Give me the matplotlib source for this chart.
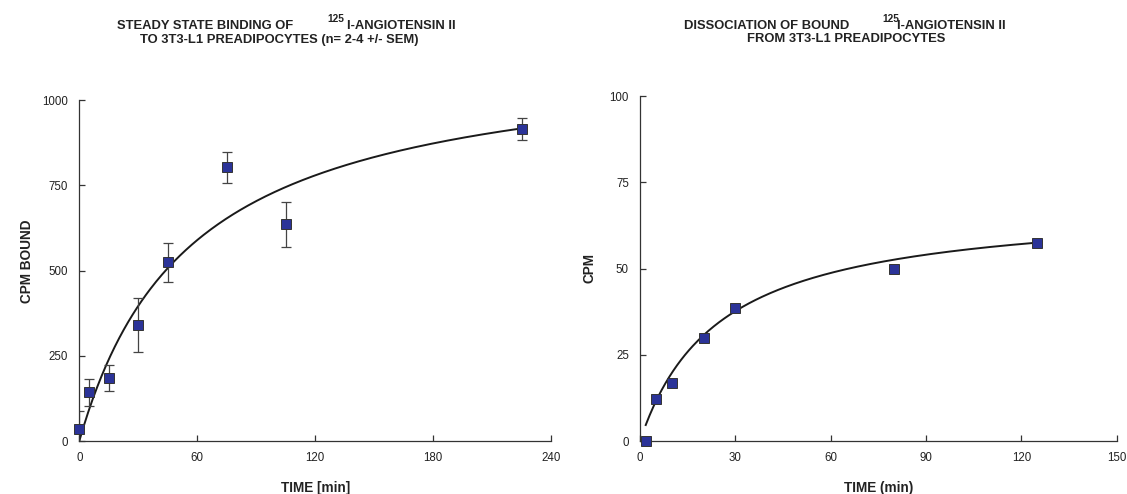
import numpy as np
import matplotlib
matplotlib.use("Agg")
from matplotlib import pyplot as plt

plt.rcParams['font.family'] = ['Liberation Sans', 'DejaVu Sans']

# steady state binding (left panel)
bind_time = [0, 5, 15, 30, 45, 75, 105, 225]
bind_cpm = [34, 143, 186, 340, 524, 803, 636, 916]
bind_sem = [53, 39, 38, 79, 57, 46, 66, 32]
bind_bmax = 1150   # fitted hyperbola
bind_kd = 57
bind_fit_range = (0, 225)

# dissociation (right panel)
diss_time = [1.8, 5, 10, 20, 30, 80, 125]
diss_cpm = [0, 12.2, 16.8, 29.9, 38.6, 49.9, 57.3]
diss_bmax = 69
diss_kd = 25
diss_fit_range = (1.8, 125)

W, H = 1127, 494
fig = plt.figure(figsize=(W / 100, H / 100), dpi=100)

def px_axes(x0, x1, ytop, ybot):
    return fig.add_axes([x0 / W, 1 - ybot / H, (x1 - x0) / W, (ybot - ytop) / H])

marker_face = '#2b3398'
txt_col = '#222222'

def style(ax, xt, yt):
    for s in ['top', 'right']:
        ax.spines[s].set_visible(False)
    for s in ['left', 'bottom']:
        ax.spines[s].set_linewidth(0.9)
        ax.spines[s].set_color('#333333')
    ax.set_xticks(xt)
    ax.set_yticks(yt)
    ax.set_xlim(xt[0], xt[-1])
    ax.set_ylim(yt[0], yt[-1])
    ax.tick_params(direction='in', length=4, width=0.9, color='#333333',
                   labelsize=8.3, labelcolor=txt_col, pad=8)

def hyperbola(bmax, kd, rng):
    t = np.linspace(rng[0], rng[1], 300)
    return t, bmax * t / (kd + t)

# ---- left panel
ax1 = px_axes(79.3, 551, 100.3, 441)
style(ax1, [0, 60, 120, 180, 240], [0, 250, 500, 750, 1000])
t, y = hyperbola(bind_bmax, bind_kd, bind_fit_range)
ax1.plot(t, y, color='#1a1a1a', lw=1.4)
ax1.errorbar(bind_time, bind_cpm, yerr=bind_sem, fmt='none', ecolor='#444444',
             elinewidth=0.9, capsize=3.6, capthick=0.9)
ax1.plot(bind_time, bind_cpm, 's', ms=6.6, mfc=marker_face, mec='#333333',
         mew=0.7, clip_on=False, zorder=5)
ax1.set_xlabel('TIME [min]', fontsize=9.8, fontweight='bold', color=txt_col, labelpad=12)
ax1.set_ylabel('CPM BOUND', fontsize=9.8, fontweight='bold', color=txt_col)
ax1.yaxis.set_label_coords(-0.096, 0.528)

# ---- right panel
ax2 = px_axes(640, 1116.7, 96, 441)
style(ax2, [0, 30, 60, 90, 120, 150], [0, 25, 50, 75, 100])
t, y = hyperbola(diss_bmax, diss_kd, diss_fit_range)
ax2.plot(t, y, color='#1a1a1a', lw=1.4)
ax2.plot(diss_time, diss_cpm, 's', ms=6.6, mfc=marker_face, mec='#333333',
         mew=0.7, clip_on=False, zorder=5)
ax2.set_xlabel('TIME (min)', fontsize=9.8, fontweight='bold', color=txt_col, labelpad=12)
ax2.set_ylabel('CPM', fontsize=9.8, fontweight='bold', color=txt_col)
ax2.yaxis.set_label_coords(-0.092, 0.501)

# ---- titles (pieces placed in pixel positions)
def ftxt(x, y, s, size=9.4, ha='left'):
    fig.text(x / W, 1 - y / H, s, fontsize=size, fontweight='bold',
             color=txt_col, ha=ha, va='center')

ftxt(117, 26, 'STEADY STATE BINDING OF')
ftxt(327, 19.5, '125', size=7.3)
ftxt(347, 26, 'I-ANGIOTENSIN II')
ftxt(279, 39.5, 'TO 3T3-L1 PREADIPOCYTES (n= 2-4 +/- SEM)', ha='center')

ftxt(684, 26, 'DISSOCIATION OF BOUND')
ftxt(882, 19.5, '125', size=7.3)
ftxt(897, 26, 'I-ANGIOTENSIN II')
ftxt(846, 39.5, 'FROM 3T3-L1 PREADIPOCYTES', ha='center')

fig.savefig('out.png', dpi=100)
